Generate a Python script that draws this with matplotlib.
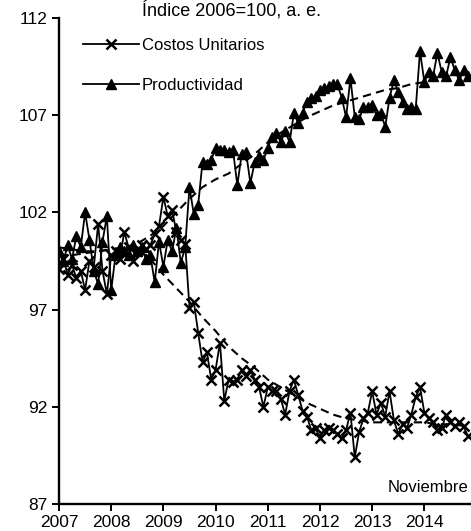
import numpy as np
import matplotlib.pyplot as plt

plt.rcParams['font.family'] = ['Liberation Sans', 'DejaVu Sans']

# monthly series, Jan 2007 - Nov 2014 (Indice 2006=100, a. e.)
costos = [99.1, 99.6, 98.8, 99.3, 98.6, 99.0, 98.0, 99.5, 99.2, 101.4, 99.0, 97.8,
          99.8, 100.0, 99.6, 101.0, 100.2, 99.5, 100.0, 100.3, 100.1, 100.3, 100.9, 101.3,
          102.8, 101.8, 102.1, 101.0, 100.6, 100.4, 97.1, 97.4, 95.8, 94.3, 94.8, 93.4,
          93.9, 95.3, 92.3, 93.4, 93.3, 93.4, 93.9, 93.6, 93.9, 93.4, 93.0, 92.0,
          93.0, 92.8, 92.8, 92.4, 91.6, 92.8, 93.4, 92.6, 91.8, 91.5, 90.8, 90.9,
          90.4, 90.8, 90.9, 90.8, 90.6, 90.4, 90.8, 91.7, 89.4, 90.7, 91.4, 91.7,
          92.8, 91.6, 92.2, 91.5, 92.8, 91.3, 90.6, 91.1, 90.9, 91.6, 92.5, 93.0,
          91.7, 91.4, 91.2, 90.8, 90.9, 91.6, 91.2, 91.0, 91.2, 91.0, 90.5]

productividad = [100.0, 99.5, 100.3, 99.6, 100.8, 100.2, 102.0, 100.6, 99.0, 98.3, 100.5, 101.8,
                 98.0, 99.8, 100.2, 100.0, 99.8, 100.3, 100.0, 100.2, 99.6, 99.8, 98.4, 100.5,
                 99.2, 100.6, 100.0, 101.2, 99.4, 100.2, 103.3, 101.9, 102.4, 104.6, 104.5, 104.7,
                 105.3, 105.2, 105.2, 105.1, 105.2, 103.4, 105.0, 105.1, 103.5, 104.6, 104.9, 104.7,
                 105.3, 105.9, 106.1, 105.6, 106.2, 105.6, 107.1, 106.6, 107.1, 107.7, 107.9, 108.0,
                 108.3, 108.4, 108.5, 108.6, 108.6, 107.9, 106.9, 108.9, 106.9, 106.8, 107.4, 107.4,
                 107.5, 107.0, 107.1, 106.4, 107.9, 108.8, 108.2, 107.7, 107.3, 107.4, 107.3, 110.3,
                 108.7, 109.2, 109.0, 110.2, 109.2, 109.0, 110.0, 109.3, 108.8, 109.3, 109.0]

# quarterly trend values
trend_t = [2007.00, 2007.25, 2007.50, 2007.75, 2008.00, 2008.25, 2008.50, 2008.75,
           2009.00, 2009.25, 2009.50, 2009.75, 2010.00, 2010.25, 2010.50, 2010.75,
           2011.00, 2011.25, 2011.50, 2011.75, 2012.00, 2012.25, 2012.50, 2012.75,
           2013.00, 2013.25, 2013.50, 2013.75, 2014.00, 2014.25, 2014.50, 2014.83]
trend_prod = [100.2, 100.1, 100.0, 100.0, 100.1, 100.2, 100.4, 100.8,
              101.3, 102.0, 102.7, 103.3, 103.7, 104.0, 104.5, 105.0,
              105.6, 106.1, 106.5, 106.9, 107.2, 107.5, 107.7, 107.9,
              108.1, 108.3, 108.4, 108.6, 108.7, 108.9, 109.0, 109.2]
trend_cost = [99.8, 99.8, 99.9, 100.0, 100.1, 100.2, 100.1, 99.6,
              98.8, 98.1, 97.4, 96.6, 95.9, 95.1, 94.5, 94.0,
              93.4, 93.0, 92.6, 92.2, 91.9, 91.6, 91.4, 91.3,
              91.2, 91.2, 91.2, 91.2, 91.2, 91.1, 91.1, 91.0]

years = [2007, 2008, 2009, 2010, 2011, 2012, 2013, 2014]
yticks = [87, 92, 97, 102, 107, 112]

t = 2007 + np.arange(len(costos)) / 12

fig = plt.figure(figsize=(4.71, 5.31), dpi=100)
ax = fig.add_axes([59 / 471, 27 / 531, 428 / 471, 486 / 531])

ax.plot(trend_t, trend_prod, color='black', ls=(0, (4, 2.5)), lw=1.5)
ax.plot(trend_t, trend_cost, color='black', ls=(0, (4, 2.5)), lw=1.5)
ax.plot(t, costos, color='black', lw=1.3, marker='x', ms=7.5, mew=1.8,
        label='Costos Unitarios')
ax.plot(t, productividad, color='black', lw=1.3, marker='^', ms=7.5,
        label='Productividad')

ax.set_xlim(2007, 2015.2)
ax.set_ylim(87, 112)
ax.set_xticks(years)
ax.set_xticklabels([str(y) for y in years])
ax.set_yticks(yticks)
for s in ['top', 'right']:
    ax.spines[s].set_visible(False)
for s in ['left', 'bottom']:
    ax.spines[s].set_linewidth(1.7)
ax.tick_params(direction='out', length=5, width=1.4, labelsize=12.5, pad=3)

ax.legend(loc='upper left', bbox_to_anchor=(0.02, 0.99), frameon=False,
          fontsize=12, handlelength=3.4, handletextpad=0.15, labelspacing=1.5)

# title sits at the very top edge, as in the source
fig.text(232 / 471, 0.999, 'Índice 2006=100, a. e.', ha='center', va='top',
         fontsize=13)
ax.text(388 / 471, 43 / 531, 'Noviembre', transform=fig.transFigure,
        ha='left', va='center', fontsize=12)

fig.savefig('out.png', dpi=100)
